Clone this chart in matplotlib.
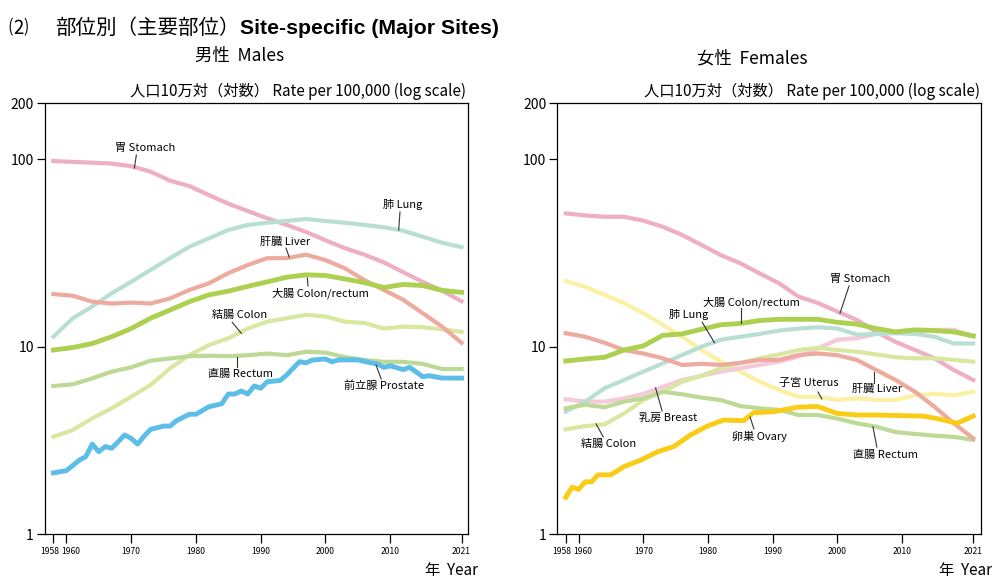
import numpy as np
import matplotlib
matplotlib.use("Agg")
from matplotlib import pyplot as plt
from matplotlib.transforms import ScaledTranslation

plt.rcParams['font.family'] = ['Noto Sans CJK JP', 'DejaVu Sans']

# years sampled every 3 years, 1958-2021
years = [1958, 1961, 1964, 1967, 1970, 1973, 1976, 1979, 1982, 1985, 1988,
         1991, 1994, 1997, 2000, 2003, 2006, 2009, 2012, 2015, 2018, 2021]

# males, rate per 100,000
m_stomach = [98, 97, 96, 95, 92, 86, 77, 72, 64.5, 58, 53, 48.5, 44.7, 41, 37,
             33.6, 31, 28.2, 25, 22.2, 19.9, 17.5]
m_lung = [11.3, 14.2, 16.4, 19.3, 22.2, 25.7, 29.7, 34.2, 37.9, 42, 44.7, 45.9,
          46.9, 48.1, 46.9, 45.9, 44.7, 43.4, 41.6, 38.7, 35.9, 34.0]
m_liver = [19.1, 18.7, 17.4, 17.0, 17.2, 17.0, 18.1, 20.1, 21.8, 24.7, 27.3, 29.7,
           29.7, 31.0, 29.0, 26.2, 22.7, 20.1, 17.8, 15.1, 12.8, 10.5]
m_colrec = [9.6, 9.9, 10.4, 11.3, 12.5, 14.2, 15.7, 17.4, 18.9, 19.8, 21.0, 22.2,
            23.5, 24.2, 24.0, 23.0, 22.0, 20.7, 21.5, 21.2, 20.0, 19.5]
m_colon = [3.31, 3.59, 4.15, 4.69, 5.41, 6.25, 7.67, 9.03, 10.2, 11.1, 12.5, 13.6,
           14.2, 14.8, 14.5, 13.6, 13.4, 12.5, 12.8, 12.7, 12.4, 12.0]
m_rectum = [6.17, 6.3, 6.78, 7.36, 7.76, 8.42, 8.65, 8.9, 8.95, 8.9, 9.0, 9.2,
            9.0, 9.4, 9.3, 8.8, 8.5, 8.3, 8.3, 8.1, 7.6, 7.6]
prostate_years = [1958, 1960, 1962, 1963, 1964, 1965, 1966, 1967, 1968, 1969, 1970,
                  1971, 1972, 1973, 1975, 1976, 1977, 1979, 1980, 1982, 1984, 1985,
                  1986, 1987, 1988, 1989, 1990, 1991, 1993, 1994, 1995, 1996, 1997,
                  1998, 2000, 2001, 2002, 2005, 2007, 2008, 2009, 2010, 2012, 2013,
                  2015, 2016, 2018, 2021]
m_prostate = [2.12, 2.18, 2.48, 2.59, 3.02, 2.75, 2.93, 2.87, 3.11, 3.38, 3.24,
              3.02, 3.33, 3.62, 3.77, 3.77, 4.03, 4.36, 4.36, 4.78, 4.96, 5.59,
              5.59, 5.8, 5.59, 6.17, 6.0, 6.5, 6.6, 7.06, 7.67, 8.32, 8.2,
              8.49, 8.6, 8.3, 8.5, 8.5, 8.2, 8.1, 7.76, 7.9, 7.55, 7.76,
              6.92, 7.0, 6.8, 6.8]

# females
f_stomach = [51.5, 50.2, 49.4, 49.4, 47.1, 43.7, 39.5, 34.9, 30.8, 27.9, 24.6, 21.8,
             18.5, 17.1, 15.4, 13.9, 12.0, 10.6, 9.6, 8.67, 7.51, 6.64]
f_colrec = [8.39, 8.6, 8.78, 9.6, 10.1, 11.5, 11.7, 12.4, 13.1, 13.3, 13.8, 14.0,
            14.0, 14.0, 13.5, 13.2, 12.5, 12.0, 12.3, 12.2, 12.0, 11.4]
f_lung = [4.5, 5.09, 6.0, 6.64, 7.36, 8.15, 9.03, 10.0, 10.9, 11.3, 11.7, 12.2,
          12.5, 12.7, 12.5, 11.6, 11.7, 11.8, 11.7, 11.3, 10.4, 10.4]
f_liver = [11.8, 11.3, 10.5, 9.6, 9.2, 8.67, 7.99, 8.1, 8.0, 8.2, 8.5, 8.5,
           9.03, 9.2, 9.0, 8.5, 7.51, 6.64, 5.75, 4.78, 3.9, 3.24]
f_uterus = [22.4, 20.9, 18.9, 17.1, 15.1, 13.1, 11.3, 9.6, 8.32, 7.36, 6.5, 5.87,
            5.4, 5.4, 5.2, 5.3, 5.2, 5.2, 5.5, 5.6, 5.5, 5.75]
f_breast = [5.24, 5.1, 5.09, 5.3, 5.6, 6.1, 6.64, 7.0, 7.36, 7.67, 8.0, 8.32,
            8.85, 9.8, 10.9, 11.1, 11.7, 12.0, 12.0, 12.3, 12.3, 11.4]
f_colon = [3.62, 3.77, 3.85, 4.4, 5.19, 5.75, 6.5, 7.0, 7.67, 8.2, 8.67, 9.1,
           9.6, 9.85, 9.6, 9.4, 9.1, 8.78, 8.67, 8.67, 8.5, 8.32]
f_rectum = [4.69, 4.9, 4.75, 5.09, 5.3, 5.75, 5.57, 5.35, 5.19, 4.82, 4.69, 4.6,
            4.32, 4.32, 4.13, 3.9, 3.74, 3.5, 3.42, 3.35, 3.3, 3.18]
ovary_years = [1958, 1959, 1960, 1961, 1962, 1963, 1965, 1967, 1969.6, 1972.2, 1974.7,
               1977.3, 1979.9, 1982.4, 1985.5, 1987, 1990.2, 1993.8, 1996.9, 2000,
               2003, 2005.6, 2013.3, 2015.9, 2018.5, 2021]
f_ovary = [1.57, 1.78, 1.73, 1.90, 1.90, 2.07, 2.07, 2.29, 2.48, 2.75, 2.93,
           3.38, 3.77, 4.06, 4.03, 4.44, 4.5, 4.75, 4.8, 4.4,
           4.32, 4.32, 4.26, 4.1, 3.9, 4.26]

xtick_years = [1958, 1960, 1970, 1980, 1990, 2000, 2010, 2021]
ytick_vals = [1, 10, 100, 200]

C_STOMACH = '#eeaec3'
C_LUNG = '#b9dfd5'
C_LIVER = '#eeaa9e'
C_COLREC = '#add051'
C_COLON = '#d8e8a0'
C_RECTUM = '#bcd996'
C_PROSTATE = '#5cbde9'
C_UTERUS = '#fbf0a3'
C_BREAST = '#f5c9d8'
C_OVARY = '#f9cc16'

fig = plt.figure(figsize=(10, 5.84), dpi=100)
ax_m = fig.add_axes([0.045, 0.0856, 0.423, 0.738])
ax_f = fig.add_axes([0.5573, 0.0856, 0.4237, 0.738])


def style_axis(ax, xmin, xmax):
    ax.set_yscale('log')
    ax.set_ylim(1, 200)
    ax.set_xlim(xmin, xmax)
    ax.set_yticks(ytick_vals)
    ax.set_yticklabels([str(v) for v in ytick_vals], fontsize=10)
    ax.yaxis.set_minor_locator(matplotlib.ticker.NullLocator())
    ax.set_xticks(xtick_years)
    ax.set_xticklabels([str(v) for v in xtick_years], fontsize=6.2)
    ax.tick_params(axis='y', length=6, width=0.9, pad=2)
    ax.tick_params(axis='x', length=6.5, width=0.9, pad=3)
    for s in ax.spines.values():
        s.set_linewidth(0.9)
    # nudge the two crowded labels apart, like the original
    labs = ax.get_xticklabels()
    labs[0].set_transform(labs[0].get_transform() +
                          ScaledTranslation(-2.9 / 72, 0, fig.dpi_scale_trans))
    labs[1].set_transform(labs[1].get_transform() +
                          ScaledTranslation(2.9 / 72, 0, fig.dpi_scale_trans))


def label(ax, x, y, text, leader):
    ax.text(x, y, text, fontsize=8, ha='left', va='center')
    (x0, y0), (x1, y1) = leader
    ax.plot([x0, x1], [y0, y1], color='#333333', lw=0.8)


lw = 3.0
ax_m.plot(years, m_stomach, color=C_STOMACH, lw=lw)
ax_m.plot(years, m_lung, color=C_LUNG, lw=lw)
ax_m.plot(years, m_colon, color=C_COLON, lw=lw)
ax_m.plot(years, m_rectum, color=C_RECTUM, lw=lw)
ax_m.plot(years, m_liver, color=C_LIVER, lw=lw)
ax_m.plot(years, m_colrec, color=C_COLREC, lw=3.5)
ax_m.plot(prostate_years, m_prostate, color=C_PROSTATE, lw=3.5)
style_axis(ax_m, 1956.7, 2022.0)

label(ax_m, 1967.5, 115, '胃 Stomach', ((1970.8, 105.6), (1970.5, 90.0)))
label(ax_m, 2008.9, 57.1, '肺 Lung', ((2011.5, 52.4), (2011.3, 42.0)))
label(ax_m, 1989.9, 36.2, '肝臓 Liver', ((1993.9, 33.6), (1994.4, 30.1)))
label(ax_m, 1991.8, 19.4, '大腸 Colon/rectum', ((1997.2, 23.3), (1997.3, 21.1)))
label(ax_m, 1982.5, 14.8, '結腸 Colon', ((1985.6, 13.5), (1987.0, 11.8)))
label(ax_m, 1981.9, 7.15, '直腸 Rectum', ((1986.3, 8.81), (1986.3, 7.79)))
label(ax_m, 2002.9, 6.17, '前立腺 Prostate', ((2007.8, 7.99), (2008.6, 6.72)))

ax_f.plot(years, f_stomach, color=C_STOMACH, lw=lw)
ax_f.plot(years, f_uterus, color=C_UTERUS, lw=lw)
ax_f.plot(years, f_breast, color=C_BREAST, lw=lw)
ax_f.plot(years, f_lung, color=C_LUNG, lw=lw)
ax_f.plot(years, f_colon, color=C_COLON, lw=lw)
ax_f.plot(years, f_rectum, color=C_RECTUM, lw=lw)
ax_f.plot(years, f_liver, color=C_LIVER, lw=lw)
ax_f.plot(years, f_colrec, color=C_COLREC, lw=3.5)
ax_f.plot(ovary_years, f_ovary, color=C_OVARY, lw=3.5)
style_axis(ax_f, 1956.7, 2022.2)

label(ax_f, 1998.9, 23.0, '胃 Stomach', ((2001.8, 21.1), (2000.4, 15.1)))
label(ax_f, 1979.3, 17.3, '大腸 Colon/rectum', ((1985.1, 16.1), (1985.1, 13.4)))
label(ax_f, 1973.9, 14.8, '肺 Lung', ((1979.1, 13.5), (1981.0, 10.5)))
label(ax_f, 1991.0, 6.40, '子宮 Uterus', ((1997.0, 5.73), (1997.6, 5.26)))
label(ax_f, 2002.3, 5.95, '肝臓 Liver', ((2005.7, 7.33), (2005.7, 6.40)))
label(ax_f, 1969.4, 4.16, '乳房 Breast', ((1971.9, 6.02), (1972.9, 4.54)))
label(ax_f, 1960.4, 3.02, '結腸 Colon', ((1962.7, 3.87), (1963.8, 3.30)))
label(ax_f, 1983.7, 3.34, '卵巣 Ovary', ((1986.5, 4.21), (1987.1, 3.64)))
label(ax_f, 2002.4, 2.64, '直腸 Rectum', ((2005.5, 3.73), (2006.1, 2.91)))

# titles and axis captions
renderer = fig.canvas.get_renderer()
title_y = 1 - 28 / 584
fig.text(0.008, title_y, '⑵', fontsize=14, va='center', ha='left')
t_jp = fig.text(0.055, title_y, '部位別（主要部位）', fontsize=14.8,
                va='center', ha='left')
bb = t_jp.get_window_extent(renderer=renderer)
fig.text(bb.x1 / fig.bbox.width + 0.001, title_y, 'Site-specific (Major Sites)',
         fontsize=15.3, fontweight='bold', va='center', ha='left',
         family=['Liberation Sans', 'DejaVu Sans'])
fig.text(0.240, 1 - 56 / 584, '男性  Males', fontsize=12.5, va='center', ha='center')
fig.text(0.752, 1 - 58 / 584, '女性  Females', fontsize=12.5, va='center', ha='center')
cap = '人口10万対（対数） Rate per 100,000 (log scale)'
fig.text(0.466, 1 - 91 / 584, cap, fontsize=11, va='center', ha='right')
fig.text(0.980, 1 - 91 / 584, cap, fontsize=11, va='center', ha='right')
fig.text(0.478, 1 - 570 / 584, '年  Year', fontsize=11, va='center', ha='right')
fig.text(0.992, 1 - 570 / 584, '年  Year', fontsize=11, va='center', ha='right')

fig.savefig('out.png', dpi=100)
